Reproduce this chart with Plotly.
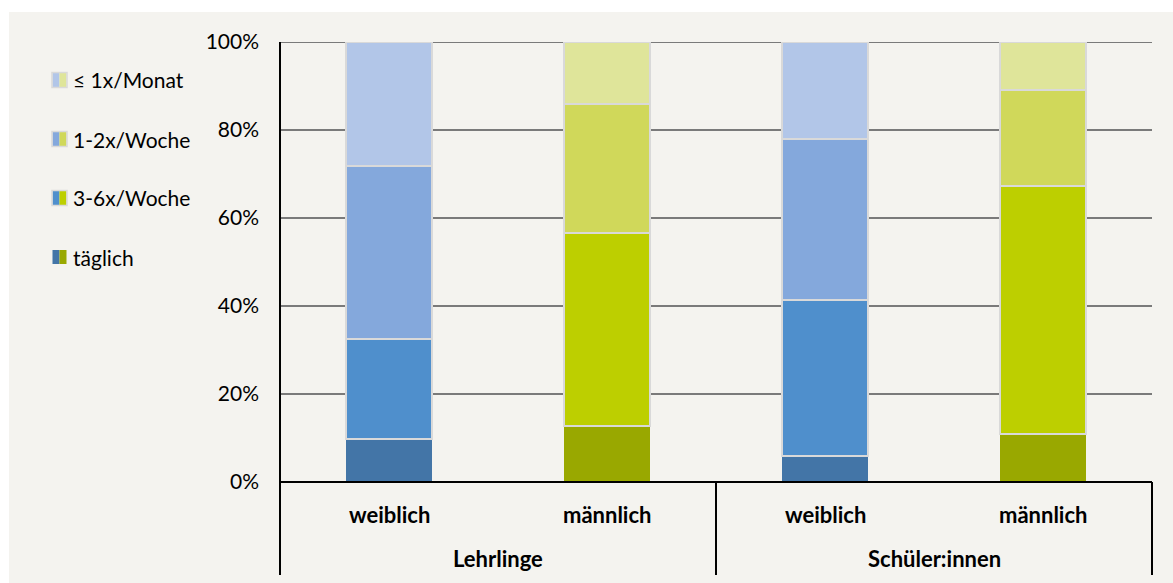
import plotly.graph_objects as go

# ---- data ----
groups = ["Lehrlinge", "Schüler:innen"]
genders = ["weiblich", "männlich"]
series_names = ["täglich", "3-6x/Woche", "1-2x/Woche", "≤ 1x/Monat"]
taeglich = [9.8, 12.7, 5.9, 10.9]
x3_6_woche = [22.7, 43.9, 35.5, 56.4]
x1_2_woche = [39.3, 29.3, 36.6, 21.8]
x1_monat = [28.2, 14.1, 22.0, 10.9]
y_ticks = [0, 20, 40, 60, 80, 100]
y_tick_labels = ["0%", "20%", "40%", "60%", "80%", "100%"]

series_values = [taeglich, x3_6_woche, x1_2_woche, x1_monat]
blue_cols = ["#4375a7", "#4f8fcc", "#84a8dc", "#b2c6e8"]
green_cols = ["#99a800", "#bdcf00", "#d0d85a", "#dfe59a"]

cats = [f"{g} {s}" for g in groups for s in genders]

FONT = "Lato"
W, H = 1173, 583
L, R, T, B = 280, 1152, 42, 482


def px(xp):
    return (xp - L) / (R - L)


def py(yp):
    return (B - yp) / (B - T)


fig = go.Figure()
for i, (name, vals) in enumerate(zip(series_names, series_values)):
    colors = [blue_cols[i] if k % 2 == 0 else green_cols[i] for k in range(len(cats))]
    fig.add_trace(go.Bar(
        x=cats, y=vals, name=name, width=0.395,
        marker=dict(color=colors,
                    line=dict(color="#d9d9d9", width=0 if i == 0 else 2)),
        showlegend=False,
        hovertemplate="%{x}<br>" + name + ": %{y}%<extra></extra>",
    ))

shapes = []
# background panel
shapes.append(dict(type="rect", xref="paper", yref="paper", layer="below",
                   x0=px(9), x1=px(1180), y0=py(590), y1=py(12),
                   fillcolor="#f4f3ef", line=dict(width=0)))
# gridlines
for t in y_ticks[1:]:
    shapes.append(dict(type="line", xref="paper", yref="y", layer="below",
                       x0=0, x1=1, y0=t, y1=t,
                       line=dict(color="#7a7a7a", width=2)))
# vertical axis & dividers
ybot = py(575)
shapes.append(dict(type="line", xref="paper", yref="paper", x0=0, x1=0,
                   y0=ybot, y1=1, line=dict(color="#000000", width=2)))
shapes.append(dict(type="line", xref="x", yref="paper", x0=1.5, x1=1.5,
                   y0=ybot, y1=0, line=dict(color="#000000", width=2)))
shapes.append(dict(type="line", xref="paper", yref="paper", x0=1, x1=1,
                   y0=ybot, y1=0, line=dict(color="#000000", width=2)))
shapes.append(dict(type="line", xref="paper", yref="paper", x0=0, x1=1,
                   y0=0, y1=0, line=dict(color="#000000", width=2)))

annotations = []
bold = dict(family=FONT, size=22, color="#000", weight="bold")
# category labels
for k, c in enumerate(cats):
    annotations.append(dict(x=k, xref="x", y=py(514), yref="paper",
                            text=genders[k % 2], showarrow=False, font=bold,
                            xanchor="center", yanchor="middle"))
for g, grp in enumerate(groups):
    annotations.append(dict(x=2 * g + 0.5, xref="x", y=py(558), yref="paper",
                            text=grp, showarrow=False, font=bold,
                            xanchor="center", yanchor="middle"))

# legend (custom two-colour swatches)
leg_y = {3: 80, 2: 139, 1: 198, 0: 257}
for i, name in enumerate(series_names):
    yc = leg_y[i]
    shapes.append(dict(type="rect", xref="paper", yref="paper",
                       x0=px(52.5), x1=px(59.5), y0=py(yc + 7), y1=py(yc - 7),
                       fillcolor=blue_cols[i], line=dict(width=0)))
    shapes.append(dict(type="rect", xref="paper", yref="paper",
                       x0=px(59.5), x1=px(66.5), y0=py(yc + 7), y1=py(yc - 7),
                       fillcolor=green_cols[i], line=dict(width=0)))
    if i != 0:
        shapes.append(dict(type="rect", xref="paper", yref="paper",
                           x0=px(52), x1=px(67), y0=py(yc + 7.5), y1=py(yc - 7.5),
                           fillcolor="rgba(0,0,0,0)",
                           line=dict(color="#d9d9d9", width=1.5)))
    annotations.append(dict(x=px(71), xref="paper", y=py(yc), yref="paper",
                            text=name, showarrow=False,
                            font=dict(family=FONT, size=21, color="#000"),
                            xanchor="left", yanchor="middle"))

fig.update_layout(
    width=W, height=H,
    margin=dict(l=L, r=W - R, t=T, b=H - B),
    paper_bgcolor="#ffffff",
    plot_bgcolor="rgba(0,0,0,0)",
    barmode="stack",
    font=dict(family=FONT, size=20, color="#000"),
    shapes=shapes,
    annotations=annotations,
    xaxis=dict(type="category", range=[-0.5, 3.5], showticklabels=False,
               showgrid=False, zeroline=False, showline=False, fixedrange=True),
    yaxis=dict(range=[0, 100], tickvals=y_ticks, ticktext=y_tick_labels,
               showgrid=False, zeroline=False, showline=False,
               tickfont=dict(family=FONT, size=21, color="#000"),
               ticks="", ticklabelstandoff=20, fixedrange=True),
)

fig.write_html("out.html")
